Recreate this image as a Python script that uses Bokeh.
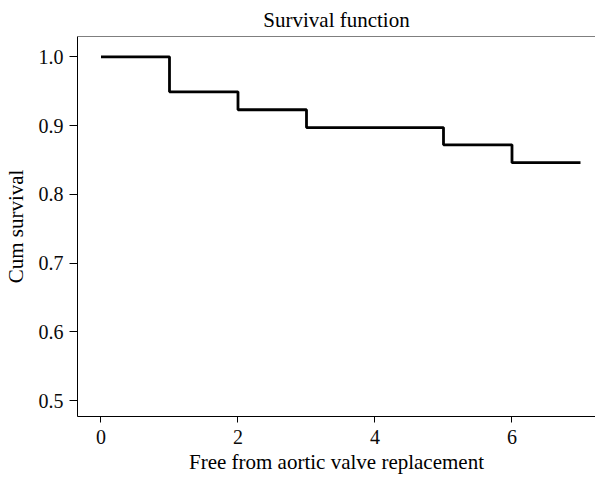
from bokeh.plotting import figure
from bokeh.models import Range1d, FixedTicker, Span, NumeralTickFormatter
from bokeh.embed import file_html
from bokeh.resources import INLINE

# Data
time = [0, 1, 2, 3, 5, 6, 7]
survival = [1.0, 0.949, 0.923, 0.897, 0.872, 0.846, 0.846]
x_ticks = [0, 2, 4, 6]
y_ticks = [0.5, 0.6, 0.7, 0.8, 0.9, 1.0]

FONT = "Liberation Serif"
Y_MIN, Y_MAX = 0.4769, 1.0295

p = figure(width=595, height=476, output_backend="svg", toolbar_location=None,
           x_range=Range1d(-0.343, 7.219), y_range=Range1d(Y_MIN, Y_MAX),
           title="Survival function")
p.min_border_left = 68
p.min_border_right = 0
p.min_border_top = 26
p.min_border_bottom = 0
p.outline_line_color = None
p.grid.visible = False

p.title.text_font = FONT
p.title.text_font_size = "21px"
p.title.text_font_style = "normal"
p.title.align = "center"
p.title.text_color = "#000000"

p.step(time, survival, mode="after", line_width=2.8, line_color="black")
p.add_layout(Span(location=Y_MAX, dimension="width", line_color="black", line_width=1))

xa = p.xaxis[0]
ya = p.yaxis[0]
for ax in (xa, ya):
    ax.major_label_text_font = FONT
    ax.major_label_text_font_size = "20px"
    ax.major_label_text_color = "#0a0a0a"
    ax.axis_line_color = "black"
    ax.major_tick_line_color = "black"
    ax.major_tick_in = 0
    ax.minor_tick_line_color = None
    ax.axis_label_text_font = FONT
    ax.axis_label_text_font_size = "21px"
    ax.axis_label_text_font_style = "normal"
    ax.axis_label_text_color = "#000000"

xa.ticker = FixedTicker(ticks=x_ticks)
ya.ticker = FixedTicker(ticks=y_ticks)
ya.formatter = NumeralTickFormatter(format="0.0")
xa.major_tick_out = 6
ya.major_tick_out = 8
xa.major_label_standoff = 7
ya.major_label_standoff = 6
xa.axis_label_standoff = 3
ya.axis_label_standoff = 8
xa.axis_label = "Free from aortic valve replacement"
ya.axis_label = "Cum survival"

open("out.html", "w").write(file_html(p, INLINE))
